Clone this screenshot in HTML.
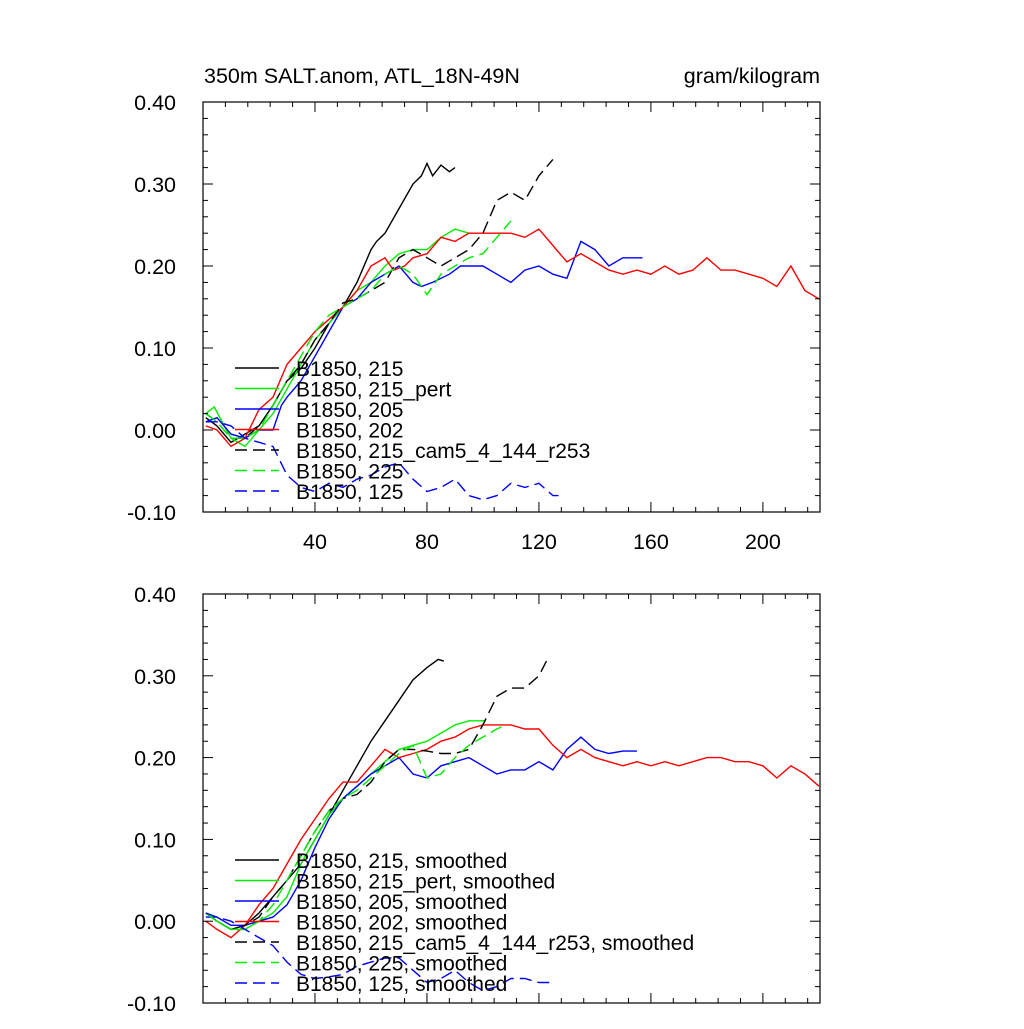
<!DOCTYPE html>
<html><head><meta charset="utf-8"><style>
body{margin:0;background:#fff}
svg{font-family:"Liberation Sans",sans-serif}
</style></head><body>
<svg id="c" width="1024" height="1024" xmlns="http://www.w3.org/2000/svg">
<text x="204" y="83" font-size="21.5">350m SALT.anom, ATL_18N-49N</text>
<text x="820" y="83" font-size="21.5" text-anchor="end">gram/kilogram</text>
</svg>
<script>
const xTicks=[40,80,120,160,200];
const yTicks=[0.4,0.3,0.2,0.1,0,-0.1];
const yTickLabels=["0.40","0.30","0.20","0.10","0.00","-0.10"];
const names=["B1850, 215","B1850, 215_pert","B1850, 205","B1850, 202","B1850, 215_cam5_4_144_r253","B1850, 225","B1850, 125"];
const colors=["#000","#0e0","#00f","#f00","#000","#0e0","#00f"];
const dashed=[false,false,false,false,true,true,true];
// top raw
const t215x=[1,5,10,15,20,25,30,35,40,45,50,55,60,62,65,70,75,78,80,82,85,88,90];
const t215y=[0.015,0.005,-0.015,-0.005,0.005,0.03,0.06,0.075,0.1,0.13,0.15,0.18,0.22,0.23,0.24,0.27,0.3,0.31,0.325,0.31,0.323,0.315,0.32];
const tpertx=[1,4,10,15,20,25,30,35,40,45,50,55,60,65,70,75,80,85,90,95];
const tperty=[0.02,0.028,-0.01,-0.02,0,0.02,0.05,0.08,0.11,0.13,0.15,0.17,0.18,0.2,0.215,0.22,0.22,0.235,0.245,0.24];
const t205x=[1,5,10,15,20,25,28,30,35,40,45,50,55,60,65,70,75,78,82,88,92,100,105,110,115,120,125,130,135,140,145,150,157];
const t205y=[0.01,0.015,-0.005,-0.01,0,0,0.03,0.04,0.06,0.09,0.12,0.15,0.16,0.18,0.19,0.2,0.18,0.175,0.18,0.19,0.2,0.2,0.19,0.18,0.195,0.2,0.19,0.185,0.23,0.22,0.2,0.21,0.21];
const t202x=[1,5,10,15,20,25,30,35,40,45,50,55,60,65,68,72,75,80,85,90,95,100,105,110,115,120,125,130,135,140,145,150,155,160,165,170,175,180,185,190,195,200,205,210,215,220];
const t202y=[0.005,0,-0.02,-0.01,0.025,0.04,0.08,0.1,0.12,0.135,0.15,0.17,0.2,0.21,0.195,0.2,0.21,0.215,0.235,0.23,0.24,0.24,0.24,0.24,0.235,0.245,0.225,0.205,0.215,0.205,0.195,0.19,0.195,0.19,0.2,0.19,0.195,0.21,0.195,0.195,0.19,0.185,0.175,0.2,0.17,0.16];
const tcamx=[1,5,10,15,20,25,30,35,40,45,50,55,60,65,70,75,80,85,90,95,100,105,110,115,120,125];
const tcamy=[0.02,0.01,-0.01,-0.01,0.005,0.03,0.06,0.08,0.11,0.13,0.155,0.16,0.17,0.18,0.21,0.22,0.21,0.2,0.21,0.22,0.24,0.28,0.29,0.28,0.31,0.33];
const t225x=[1,5,10,15,20,25,30,35,40,45,50,55,60,65,70,75,80,85,90,95,100,105,110];
const t225y=[0.02,0.01,-0.01,-0.01,0,0.03,0.06,0.09,0.12,0.14,0.15,0.16,0.17,0.19,0.2,0.19,0.165,0.19,0.2,0.21,0.215,0.235,0.255];
const t125x=[1,5,10,15,20,25,30,35,40,45,50,55,60,65,70,75,80,85,90,95,100,105,110,115,120,125,127];
const t125y=[0.01,0.01,0.005,-0.01,-0.015,-0.02,-0.055,-0.07,-0.075,-0.065,-0.07,-0.06,-0.055,-0.045,-0.04,-0.06,-0.075,-0.07,-0.06,-0.08,-0.085,-0.08,-0.065,-0.07,-0.065,-0.08,-0.08];
// bottom smoothed
const s215x=[1,5,10,15,20,25,30,35,40,45,50,55,60,65,70,75,80,84,86];
const s215y=[0.01,0,-0.01,-0.005,0.01,0.03,0.05,0.07,0.1,0.13,0.16,0.19,0.22,0.245,0.27,0.295,0.31,0.32,0.318];
const spertx=[1,5,10,15,20,25,30,35,40,45,50,55,60,65,70,75,80,85,90,95,101];
const sperty=[0.01,0,-0.01,-0.01,0,0.01,0.03,0.07,0.1,0.13,0.15,0.165,0.18,0.195,0.21,0.215,0.22,0.23,0.24,0.245,0.245];
const s205x=[1,5,10,15,20,25,30,35,40,45,50,55,60,65,70,75,80,85,90,95,100,105,110,115,120,125,130,135,140,145,150,155];
const s205y=[0.005,0.005,-0.005,-0.005,0,0.005,0.02,0.05,0.09,0.125,0.15,0.165,0.18,0.19,0.2,0.18,0.175,0.19,0.195,0.2,0.19,0.18,0.185,0.185,0.195,0.185,0.21,0.225,0.21,0.205,0.208,0.208];
const s202x=[1,5,10,15,20,25,30,35,40,45,50,55,60,65,70,75,80,85,90,95,100,105,110,115,120,125,130,135,140,145,150,155,160,165,170,175,180,185,190,195,200,205,210,215,220];
const s202y=[0,-0.01,-0.02,-0.005,0.02,0.04,0.07,0.1,0.125,0.15,0.17,0.17,0.19,0.21,0.2,0.205,0.21,0.22,0.225,0.235,0.24,0.24,0.24,0.235,0.235,0.215,0.2,0.21,0.2,0.195,0.19,0.195,0.19,0.195,0.19,0.195,0.2,0.2,0.195,0.195,0.19,0.175,0.19,0.18,0.165];
const scamx=[1,5,10,15,20,25,30,35,40,45,50,55,60,65,70,75,80,85,90,95,100,105,110,115,120,123];
const scamy=[0.01,0,-0.01,-0.005,0.005,0.03,0.05,0.08,0.11,0.135,0.15,0.155,0.17,0.195,0.21,0.21,0.208,0.205,0.205,0.21,0.24,0.275,0.285,0.285,0.3,0.32];
const s225x=[1,5,10,15,20,25,30,35,40,45,50,55,60,65,70,75,80,85,90,95,100,105,108];
const s225y=[0.01,0,-0.01,-0.01,0,0.02,0.05,0.08,0.11,0.135,0.15,0.16,0.175,0.19,0.205,0.215,0.175,0.18,0.2,0.215,0.225,0.235,0.24];
const s125x=[1,5,10,15,20,25,30,35,40,45,50,55,60,65,70,75,80,85,90,95,100,105,110,115,120,124];
const s125y=[0.01,0.005,0,-0.01,-0.02,-0.03,-0.05,-0.065,-0.07,-0.068,-0.065,-0.055,-0.05,-0.045,-0.045,-0.06,-0.075,-0.07,-0.06,-0.075,-0.085,-0.08,-0.07,-0.07,-0.075,-0.075];
const topX=[t215x,tpertx,t205x,t202x,tcamx,t225x,t125x];
const topY=[t215y,tperty,t205y,t202y,tcamy,t225y,t125y];
const botX=[s215x,spertx,s205x,s202x,scamx,s225x,s125x];
const botY=[s215y,sperty,s205y,s202y,scamy,s225y,s125y];

const NS="http://www.w3.org/2000/svg";
const svg=document.getElementById('c');
function el(t,a,p){const e=document.createElementNS(NS,t);for(const k in a)e.setAttribute(k,a[k]);(p||svg).appendChild(e);return e;}
const L=203,R=820,xmin=0,xmax=220.4;
function panel(top,bot,xs,ys,suffix,showX,pname){
  const g=el('g',{});
  
  
  const sx=v=>L+(v-xmin)/(xmax-xmin)*(R-L);
  const sy=v=>bot-(v+0.1)/0.5*(bot-top);
  const cp=el('clipPath',{id:'cp'+top},g);el('rect',{x:L,y:top,width:R-L,height:bot-top},cp);
  const sg=el('g',{'clip-path':'url(#cp'+top+')'},g);
  for(let i=0;i<xs.length;i++){
    const d=xs[i].map((x,j)=>(j?'L':'M')+sx(x).toFixed(1)+','+sy(ys[i][j]).toFixed(1)).join('');
    const p=el('path',{d:d,fill:'none',stroke:colors[i],'stroke-width':1.4,'stroke-dasharray':dashed[i]?'12,6':'none'},sg);
    
    
  }
  el('rect',{x:L,y:top,width:R-L,height:bot-top,fill:'none',stroke:'#000','stroke-width':1.2},g);
  for(let v=-0.1;v<=0.4001;v+=0.02){
    const y=sy(v);const major=Math.abs(Math.round(v*10)-v*10)<1e-6;const len=major?10:5;
    el('line',{x1:L,x2:L+len,y1:y,y2:y,stroke:'#000'},g);
    el('line',{x1:R,x2:R-len,y1:y,y2:y,stroke:'#000'},g);
  }
  yTicks.forEach((v,i)=>{const t=el('text',{x:L-27,y:sy(v)+8,'font-size':21.5,'text-anchor':'end'},g);t.textContent=yTickLabels[i];
    });
  for(let v=8;v<xmax;v+=8){
    const x=sx(v);const major=v%40===0;const len=major?10:5;
    el('line',{x1:x,x2:x,y1:bot,y2:bot-len,stroke:'#000'},g);
    el('line',{x1:x,x2:x,y1:top,y2:top+len,stroke:'#000'},g);
  }
  if(showX) xTicks.forEach(v=>{const t=el('text',{x:sx(v),y:bot+37,'font-size':21.5,'text-anchor':'middle'},g);t.textContent=v;
    });
  const ly0=top+266;
  names.forEach((n,i)=>{
    const y=ly0+i*20.5;
    const lg=el('g',{},g);
    
    
    el('line',{x1:235,x2:279,y1:y,y2:y,stroke:colors[i],'stroke-width':1.4,'stroke-dasharray':dashed[i]?'12,6':'none'},lg);
    const t=el('text',{x:296,y:y+8,'font-size':21},lg);t.textContent=n+suffix;
  });
}
panel(102,512,topX,topY,'',true,'top-panel');
panel(594,1003,botX,botY,', smoothed',false,'bottom-panel');
</script>
</body></html>
